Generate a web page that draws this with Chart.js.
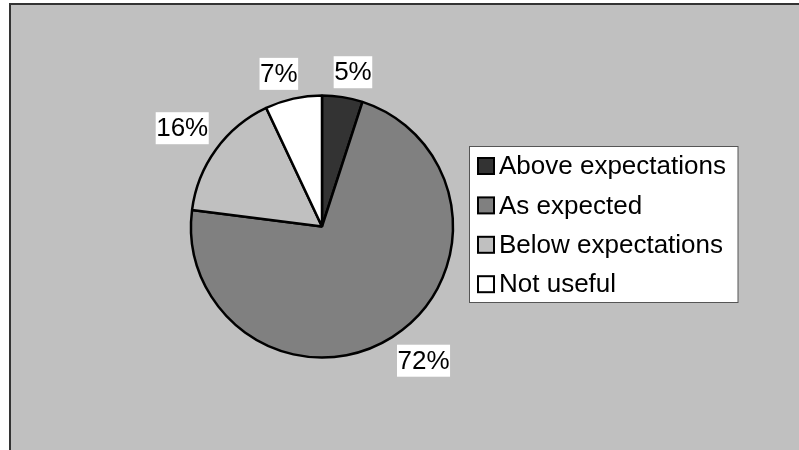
<!DOCTYPE html>
<html>
<head>
<meta charset="utf-8">
<script src="https://cdn.jsdelivr.net/npm/chart.js@4.4.1/dist/chart.umd.min.js"></script>
<style>
  html, body { margin: 0; padding: 0; background: #fff; }
  canvas { display: block; }
</style>
</head>
<body>
<canvas id="pie" width="799" height="450"></canvas>
<script>
// --- data ---
const categories = ['Above expectations', 'As expected', 'Below expectations', 'Not useful'];
const shares = [5, 72, 16, 7];
const sliceColors = ['#333333', '#808080', '#c0c0c0', '#ffffff'];

const FONT = '26px "Liberation Sans", Arial, sans-serif';

// grey plot frame behind everything
const framePlugin = {
  id: 'frame',
  beforeDraw(chart) {
    const ctx = chart.ctx;
    ctx.save();
    ctx.fillStyle = '#ffffff';
    ctx.fillRect(0, 0, chart.width, chart.height);
    ctx.fillStyle = '#c0c0c0';
    ctx.fillRect(10, 4, chart.width, chart.height);
    ctx.strokeStyle = '#333333';
    ctx.lineWidth = 2;
    ctx.beginPath();
    ctx.moveTo(10, chart.height + 2);
    ctx.lineTo(10, 4);
    ctx.lineTo(chart.width + 2, 4);
    ctx.stroke();
    ctx.restore();
  }
};

// percentage labels in white boxes outside the pie
const labelPlugin = {
  id: 'pctLabels',
  afterDatasetsDraw(chart) {
    const ctx = chart.ctx;
    const meta = chart.getDatasetMeta(0);
    const total = shares.reduce((a, b) => a + b, 0);
    ctx.save();
    ctx.font = FONT;
    ctx.textAlign = 'center';
    ctx.textBaseline = 'middle';
    meta.data.forEach((arc, i) => {
      const p = arc.getProps(['x', 'y', 'startAngle', 'endAngle', 'outerRadius'], true);
      const mid = (p.startAngle + p.endAngle) / 2;
      const dx = Math.cos(mid), dy = Math.sin(mid);
      const r = p.outerRadius + 9;
      const txt = Math.round(shares[i] / total * 100) + '%';
      const w = ctx.measureText(txt).width + 1;
      const h = 32;
      const fx = Math.max(-1, Math.min(1, dx * 3));
      const fy = Math.max(-1, Math.min(1, dy * 3));
      const cx = p.x + r * dx + fx * w / 2;
      const cy = p.y + r * dy + fy * h / 2;
      ctx.fillStyle = '#ffffff';
      ctx.fillRect(cx - w / 2, cy - h / 2, w, h);
      ctx.fillStyle = '#000000';
      ctx.fillText(txt, cx, cy + 1);
    });
    ctx.restore();
  }
};

// boxed legend on the right
const legendPlugin = {
  id: 'boxLegend',
  afterDraw(chart) {
    const ctx = chart.ctx;
    const ds = chart.data.datasets[0];
    const left = 469.5, top = 146, right = 738, bottom = 302;
    ctx.save();
    ctx.fillStyle = '#ffffff';
    ctx.fillRect(left, top, right - left, bottom - top);
    ctx.strokeStyle = '#555555';
    ctx.lineWidth = 1;
    ctx.strokeRect(left, top + 0.5, right - left, bottom - top);
    ctx.font = FONT;
    ctx.textBaseline = 'middle';
    ctx.textAlign = 'left';
    chart.data.labels.forEach((lab, i) => {
      const y = 166 + i * 39.4;
      ctx.fillStyle = ds.backgroundColor[i];
      ctx.fillRect(478, y - 8, 16, 16);
      ctx.strokeStyle = '#000000';
      ctx.lineWidth = 2;
      ctx.strokeRect(478, y - 8, 16, 16);
      ctx.fillStyle = '#000000';
      ctx.fillText(lab, 499, y + 1);
    });
    ctx.restore();
  }
};

new Chart(document.getElementById('pie'), {
  type: 'pie',
  data: {
    labels: categories,
    datasets: [{
      data: shares,
      backgroundColor: sliceColors,
      borderColor: '#000000',
      borderWidth: 2.5
    }]
  },
  options: {
    responsive: false,
    animation: false,
    radius: 131,
    layout: { padding: { left: 191, right: 346, top: 95.5, bottom: 92.5 } },
    plugins: {
      legend: { display: false },
      tooltip: { enabled: false }
    }
  },
  plugins: [framePlugin, labelPlugin, legendPlugin]
});
</script>
</body>
</html>
